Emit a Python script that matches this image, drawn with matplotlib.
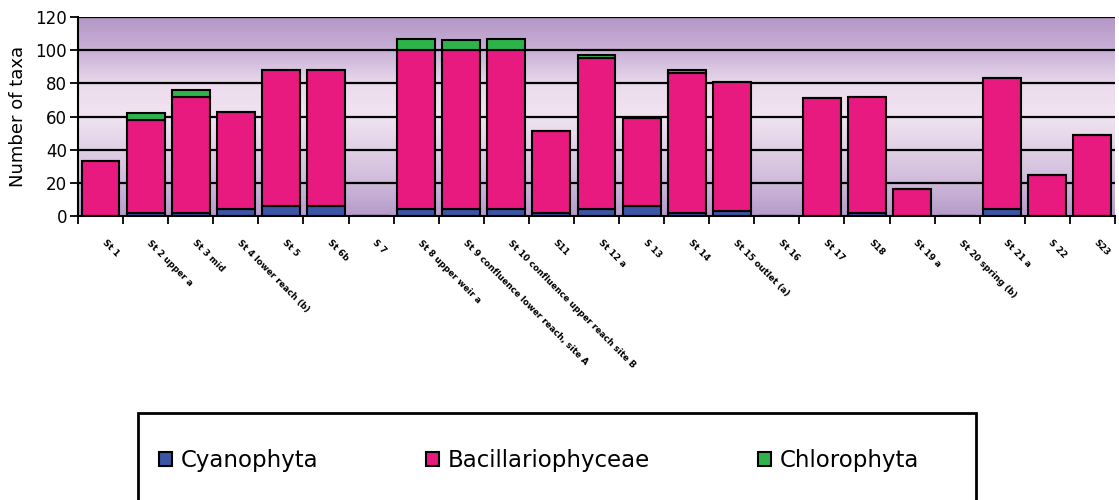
import numpy as np
import matplotlib.pyplot as plt
import matplotlib.transforms as mtrans
from matplotlib.colors import LinearSegmentedColormap
from matplotlib.patches import Rectangle

# station labels (illegible in the original, placeholders of similar length)
sitios = ['St 1', 'St 2 upper a', 'St 3 mid', 'St 4 lower reach (b)', 'St 5', 'St 6b',
          'S 7', 'St 8 upper weir a', 'St 9 confluence lower reach, site A',
          'St 10 confluence upper reach site B', 'S11', 'St 12 a', 'S 13', 'St 14',
          'St 15 outlet (a)', 'St 16', 'St 17', 'S18', 'St 19 a', 'St 20 spring (b)',
          'St 21 a', 'S 22', 'S23']

cyanophyta = [0, 2, 2, 4, 6, 6, 0, 4, 4, 4, 2, 4, 6, 2, 3, 0, 0, 2, 0, 0, 4, 0, 0]
bacillario = [33, 56, 70, 59, 82, 82, 0, 96, 96, 96, 49, 91, 53, 84, 78, 0, 71, 70, 16, 0, 79, 25, 49]
chlorophyta = [0, 4, 4, 0, 0, 0, 0, 7, 6, 7, 0, 2, 0, 2, 0, 0, 0, 0, 0, 0, 0, 0, 0]

azul = '#3c55a5'
rosa = '#e8197f'
verde = '#2db34a'

fig = plt.figure(figsize=(11.19, 5.0), dpi=100)
ax = fig.add_axes([0.0697, 0.568, 0.9267, 0.398])

x = np.arange(len(sitios))
cy = np.array(cyanophyta)
ba = np.array(bacillario)
ch = np.array(chlorophyta)

# fondo degradado
fondo = LinearSegmentedColormap.from_list('fondo', [
    (0.0, '#b69bca'), (0.2, '#d3bfdd'), (0.5, '#f1e4f1'),
    (0.65, '#ecdcee'), (0.83, '#c9b1d7'), (1.0, '#b497c6')])
grad = np.linspace(0, 1, 256).reshape(-1, 1)
ax.imshow(grad, cmap=fondo, aspect='auto', origin='lower',
          extent=[-0.5, len(sitios) - 0.5, 0, 120], zorder=0)

for yv in range(20, 121, 20):
    ax.axhline(yv, color='black', lw=1.6, zorder=1)

ancho = 0.84
kw = dict(width=ancho, edgecolor='black', linewidth=1.5, zorder=2)
ax.bar(x, cy, color=azul, label='Cyanophyta', **kw)
ax.bar(x, ba, bottom=cy, color=rosa, label='Bacillariophyceae', **kw)
ax.bar(x, ch, bottom=cy + ba, color=verde, label='Chlorophyta', **kw)

ax.set_xlim(-0.5, len(sitios) - 0.5)
ax.set_ylim(0, 120)
ax.set_yticks(range(0, 121, 20))
ax.tick_params(axis='y', labelsize=12, length=6, width=1.3, direction='out', pad=2)
ax.set_ylabel('Number of taxa', fontsize=13, labelpad=6)

ax.set_xticks(np.arange(-0.5, len(sitios), 1))
ax.set_xticklabels([])
ax.tick_params(axis='x', length=6, width=1.3, direction='out')
ax.set_xticks(x, minor=True)
ax.set_xticklabels(sitios, minor=True, rotation=-45, ha='left', va='top',
                   rotation_mode='anchor', fontsize=6.3, fontweight='bold')
ax.tick_params(axis='x', which='minor', length=0, pad=16)
desplaza = mtrans.ScaledTranslation(6 / 100, 0, fig.dpi_scale_trans)
for etiqueta in ax.get_xticklabels(minor=True):
    etiqueta.set_transform(etiqueta.get_transform() + desplaza)

for lado in ['top', 'right']:
    ax.spines[lado].set_visible(False)
ax.spines['left'].set_linewidth(1.5)
ax.spines['bottom'].set_linewidth(1.5)

# caja de leyenda (se corta abajo)
caja = Rectangle((138 / 1119, -0.1), (976 - 138) / 1119, 0.1 + (500 - 413) / 500,
                 transform=fig.transFigure, fill=False, edgecolor='black', lw=2)
fig.patches.append(caja)

handles, labels = ax.get_legend_handles_labels()
leg = fig.legend(handles, labels, loc='center', bbox_to_anchor=(0.482, 0.078),
                 ncol=3, frameon=False, handlelength=0.55,
                 handleheight=0.55, handletextpad=0.4, columnspacing=4.7,
                 prop={'family': 'DejaVu Sans', 'size': 16.5})

plt.savefig('out.png', dpi=100)
